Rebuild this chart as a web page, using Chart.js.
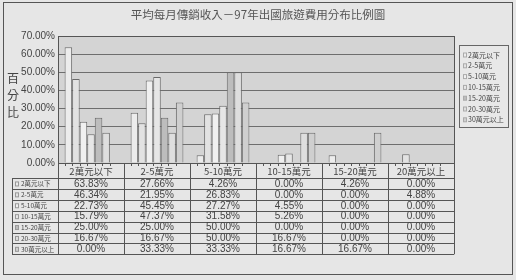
<!DOCTYPE html>
<html>
<head>
<meta charset="utf-8">
<script src="https://cdn.jsdelivr.net/npm/chart.js@4"></script>
<style>
html,body{margin:0;padding:0;background:#e4e4e4;}
#wrap{position:relative;width:516px;height:280px;}
canvas{display:block;}
</style>
</head>
<body>
<div id="wrap"><canvas id="c" width="516" height="280"></canvas></div>
<script>
const title = "平均每月傳銷收入－97年出國旅遊費用分布比例圖";
const categories = ["2萬元以下", "2-5萬元", "5-10萬元", "10-15萬元", "15-20萬元", "20萬元以上"];
const seriesNames = ["2萬元以下", "2-5萬元", "5-10萬元", "10-15萬元", "15-20萬元", "20-30萬元", "30萬元以上"];
const s1 = [63.83, 27.66, 4.26, 0.00, 4.26, 0.00];
const s2 = [46.34, 21.95, 26.83, 0.00, 0.00, 4.88];
const s3 = [22.73, 45.45, 27.27, 4.55, 0.00, 0.00];
const s4 = [15.79, 47.37, 31.58, 5.26, 0.00, 0.00];
const s5 = [25.00, 25.00, 50.00, 0.00, 0.00, 0.00];
const s6 = [16.67, 16.67, 50.00, 16.67, 0.00, 0.00];
const s7 = [0.00, 33.33, 33.33, 16.67, 16.67, 0.00];
const yTicks = [0, 10, 20, 30, 40, 50, 60, 70];
const yTitle = ["百", "分", "比"];

const seriesValues = [s1, s2, s3, s4, s5, s6, s7];
const fills = ["#ececec", "#e2e2e2", "#f0f0f0", "#e6e6e6", "#bdbdbd", "#dedede", "#cfcfcf"];
const FONT = "'Liberation Sans', Arial, sans-serif";
const CJK = "'Noto Sans CJK TC', 'Noto Sans CJK SC', sans-serif";

const decor = {
  id: 'decor',
  beforeDraw(chart) {
    const ctx = chart.ctx, a = chart.chartArea;
    ctx.save();
    ctx.fillStyle = '#e6e6e6';
    ctx.fillRect(0, 0, 516, 280);
    ctx.strokeStyle = '#555';
    ctx.lineWidth = 1;
    ctx.strokeRect(3.5, 2.5, 509, 272);
    ctx.fillStyle = '#d4d4d4';
    ctx.fillRect(a.left, a.top, a.right - a.left, a.bottom - a.top);
    ctx.restore();
  },
  afterDraw(chart) {
    const ctx = chart.ctx, a = chart.chartArea, xs = chart.scales.x;
    ctx.save();
    // title
    ctx.fillStyle = '#555';
    ctx.font = "11.5px " + CJK;
    ctx.textAlign = 'center';
    ctx.textBaseline = 'middle';
    ctx.fillText(title, 258, 15);
    // y title
    ctx.font = "12px " + CJK;
    ctx.fillStyle = '#444';
    yTitle.forEach((ch, i) => ctx.fillText(ch, 13, 78 + i * 17));
    // plot border
    ctx.strokeStyle = '#555';
    ctx.lineWidth = 1;
    ctx.strokeRect(Math.round(a.left) + 0.5, Math.round(a.top) + 0.5, Math.round(a.right - a.left), Math.round(a.bottom - a.top));
    // table
    const headTop = a.bottom, headH = 15, rowH = 10.9;
    const rowsTop = headTop + headH;
    const tableBottom = rowsTop + rowH * seriesNames.length;
    const labelLeft = 12;
    const catW = (a.right - a.left) / categories.length;
    ctx.strokeStyle = '#555';
    ctx.beginPath();
    for (let r = 0; r <= seriesNames.length; r++) {
      const y = Math.round(rowsTop + r * rowH) + 0.5;
      ctx.moveTo(labelLeft, y); ctx.lineTo(a.right, y);
    }
    ctx.moveTo(labelLeft + 0.5, rowsTop); ctx.lineTo(labelLeft + 0.5, tableBottom);
    for (let c = 0; c <= categories.length; c++) {
      const x = Math.round(a.left + c * catW) + 0.5;
      ctx.moveTo(x, headTop); ctx.lineTo(x, tableBottom);
    }
    ctx.stroke();
    // small tick marks at bottom of plot
    ctx.beginPath();
    chart.data.datasets.forEach((ds, i) => {
      const meta = chart.getDatasetMeta(i);
      meta.data.forEach(bar => {
        const x = Math.round(bar.x - bar.width / 2) + 0.5;
        ctx.moveTo(x, a.bottom); ctx.lineTo(x, a.bottom + 3);
      });
    });
    ctx.stroke();
    // header text
    ctx.fillStyle = '#444';
    ctx.font = "9.5px " + CJK;
    ctx.textAlign = 'center';
    categories.forEach((c, i) => {
      ctx.fillText(c, xs.getPixelForValue(i), headTop + headH / 2 + 1);
    });
    // rows
    seriesNames.forEach((name, r) => {
      const yc = rowsTop + r * rowH + rowH / 2 + 0.5;
      ctx.fillStyle = fills[r];
      ctx.strokeStyle = '#999';
      ctx.fillRect(15, yc - 2, 3, 4);
      ctx.strokeRect(15.5, yc - 2, 3, 4);
      ctx.fillStyle = '#444';
      ctx.font = "6.5px " + CJK;
      ctx.textAlign = 'left';
      ctx.fillText(name, 21, yc);
      ctx.textAlign = 'center';
      ctx.font = "10px " + FONT;
      seriesValues[r].forEach((v, i) => {
        ctx.fillText(v.toFixed(2) + '%', xs.getPixelForValue(i), yc);
      });
    });
    // legend
    ctx.strokeStyle = '#666';
    ctx.fillStyle = '#e8e8e8';
    ctx.fillRect(459.5, 45.5, 49, 82);
    ctx.strokeRect(459.5, 45.5, 49, 82);
    seriesNames.forEach((name, r) => {
      const yc = 55 + r * 10.8;
      ctx.fillStyle = fills[r];
      ctx.fillRect(463, yc - 2, 3, 4);
      ctx.strokeStyle = '#aaa';
      ctx.strokeRect(463.5, yc - 2, 3, 4);
      ctx.fillStyle = '#444';
      ctx.font = "7px " + CJK;
      ctx.textAlign = 'left';
      ctx.fillText(name, 468, yc);
    });
    ctx.restore();
  }
};

new Chart(document.getElementById('c'), {
  type: 'bar',
  data: {
    labels: categories,
    datasets: seriesNames.map((n, i) => ({
      label: n,
      data: seriesValues[i],
      backgroundColor: fills[i],
      borderColor: '#6a6a6a',
      borderWidth: 1,
      categoryPercentage: 0.8,
      barPercentage: 1.0
    }))
  },
  options: {
    responsive: false,
    animation: false,
    devicePixelRatio: 1,
    layout: { padding: { left: 0, right: 62, top: 36, bottom: 117 } },
    plugins: { legend: { display: false }, tooltip: { enabled: false }, title: { display: false } },
    scales: {
      x: { display: false, grid: { display: false } },
      y: {
        min: 0, max: 70,
        afterFit(s) { s.width = 58; },
        afterBuildTicks(s) { s.ticks = yTicks.map(v => ({ value: v })); },
        grid: { color: '#6e6e6e', drawTicks: false, lineWidth: 1 },
        border: { display: false },
        ticks: {
          padding: 3,
          color: '#444',
          font: { family: FONT, size: 10 },
          callback: v => v.toFixed(2) + '%'
        }
      }
    }
  },
  plugins: [decor]
});
</script>
</body>
</html>
